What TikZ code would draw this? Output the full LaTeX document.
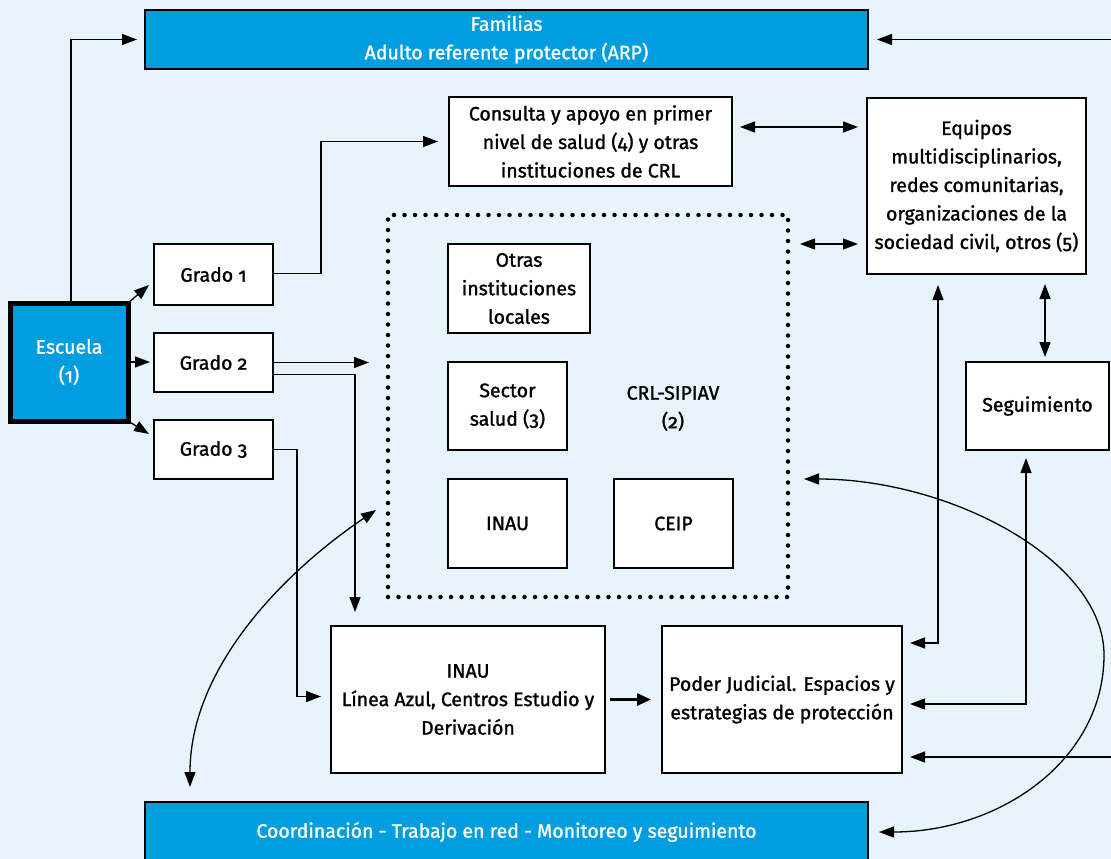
\documentclass[tikz,border=0pt]{standalone}
\usepackage{fontspec}
\setmainfont{Fira Sans}[Numbers=OldStyle, UprightFeatures={FakeBold=1.3}]
\usetikzlibrary{arrows.meta,calc}
\definecolor{bg}{RGB}{232,244,251}
\definecolor{azul}{RGB}{0,158,224}
\begin{document}
\begin{tikzpicture}[x=1pt,y=-1pt,
 every node/.style={font=\fontsize{19.5}{28.5}\selectfont, align=center, inner sep=0pt, outer sep=0pt},
 wbox/.style={draw=black, line width=2.5pt, fill=white, text=black},
 bbox/.style={draw=black, line width=2.5pt, fill=azul, text=white},
 dotbox/.style={draw=black, line width=4.5pt, dash pattern=on 0pt off 10.5pt, line cap=round},
 arr/.style={line width=1.3pt, -{Triangle[length=15pt,width=11pt]}},
 darr/.style={line width=1.3pt, {Triangle[length=15pt,width=11pt]}-{Triangle[length=15pt,width=11pt]}},
]
\fill[bg] (0,0) rectangle (1111,859);
\useasboundingbox (0,0) rectangle (1111,859);

% nodes
\node[bbox, minimum width=723pt, minimum height=59pt] (fam) at (506.5,39.5) {Familias\\Adulto referente protector (ARP)};
\node[bbox, minimum width=723pt, minimum height=60pt] (coord) at (506.5,832) {Coordinación - Trabajo en red - Monitoreo y seguimiento};
\node[bbox, line width=5pt, minimum width=118pt, minimum height=118pt] (esc) at (69,362) {Escuela\\(1)};
\node[wbox, minimum width=119pt, minimum height=61pt] (g1) at (213.5,274.5) {Grado 1};
\node[wbox, minimum width=119pt, minimum height=59pt] (g2) at (213.5,362.5) {Grado 2};
\node[wbox, minimum width=119pt, minimum height=59pt] (g3) at (213.5,449.5) {Grado 3};
\node[wbox, minimum width=283pt, minimum height=89pt] (cons) at (590.5,141.5) {Consulta y apoyo en primer\\nivel de salud (4) y otras\\instituciones de CRL};
\node[wbox, minimum width=219pt, minimum height=176pt] (eq) at (976.5,186) {Equipos\\multidisciplinarios,\\redes comunitarias,\\organizaciones de la\\sociedad civil, otros (5)};
\node[wbox, minimum width=143pt, minimum height=88pt] (seg) at (1037.5,406) {Seguimiento};
\node[dotbox, minimum width=400pt, minimum height=382pt] (dot) at (588,406) {};
\node[wbox, minimum width=142pt, minimum height=89pt] (otras) at (519,288.5) {Otras\\instituciones\\locales};
\node[wbox, minimum width=119pt, minimum height=88pt] (sector) at (507.5,406) {Sector\\salud (3)};
\node[wbox, minimum width=119pt, minimum height=89pt] (inau1) at (507.5,523.5) {INAU};
\node[wbox, minimum width=119pt, minimum height=89pt] (ceip) at (673.5,523.5) {CEIP};
\node (crl) at (673,408.5) {CRL-SIPIAV\\(2)};
\node[wbox, minimum width=274pt, minimum height=147pt] (inau2) at (468,699.5) {INAU\\Línea Azul, Centros Estudio y\\Derivación};
\node[wbox, minimum width=240pt, minimum height=147pt] (pod) at (782,699.5) {Poder Judicial. Espacios y\\estrategias de protección};

% helper coordinates
\coordinate (rA) at (1111,39.5);
\coordinate (rB) at (1111,757);
\coordinate (y127) at (0,127);
\coordinate (y244) at (0,244);
\coordinate (y643) at (0,643);
\coordinate (y704) at (0,704);
\coordinate (y510) at (0,510);
\coordinate (y479) at (0,479);
\coordinate (x938) at (938,0);
\coordinate (x1026) at (1026,0);
\coordinate (x1045) at (1045,0);
\coordinate (x190) at (190,0);
\coordinate (lc) at ($(dot.west |- y510)+(-12,0)$);

% connectors
\draw[arr, shorten >=8pt] ([xshift=2pt]esc.north) |- (fam.west);
\draw[arr, shorten >=9pt] (rA) -- (fam.east |- rA);
\draw[arr] (esc.north east) -- ([xshift=-5pt,yshift=20pt]g1.south west);
\draw[arr, shorten >=4pt] (esc.east) -- (esc.east -| g2.west);
\draw[arr] (esc.south east) -- ([xshift=-5pt,yshift=-14pt]g3.north west);
\draw[arr, shorten >=11pt] ([yshift=1pt]g1.east) -- ++(48,0) |- (cons.west);
\draw[arr, shorten >=19pt] (g2.east) -- (g2.east -| dot.west);
\draw[arr, shorten >=14pt] ([yshift=-12pt]g2.east) -| ([xshift=24pt]inau2.north west);
\draw[arr, shorten >=10pt] (g3.east) -- ++(24,0) |- ([yshift=3pt]inau2.west);
\draw[darr, shorten <=8pt, shorten >=9pt] (cons.east |- y127) -- (eq.west |- y127);
\draw[darr, shorten <=12pt, shorten >=9pt] (dot.east |- y244) -- (eq.west |- y244);
\draw[darr, shorten <=10pt, shorten >=5pt] (eq.south -| x1045) -- (seg.north -| x1045);
\draw[darr, shorten <=8pt, shorten >=11pt] (pod.east |- y643) -| (eq.south -| x938);
\draw[darr, shorten <=8pt, shorten >=8pt] (pod.east |- y704) -| (seg.south -| x1026);
\draw[arr, shorten >=8pt] (rB) -- (pod.east |- rB);
\draw[line width=3pt, -{Triangle[length=14pt,width=12pt]}, shorten <=5pt, shorten >=11pt] (inau2.east) -- (pod.west);
\draw[darr, shorten >=15pt] (lc) .. controls (280,575) and (190,670) .. (coord.north -| x190);
\draw[darr, shorten <=16pt, shorten >=11pt] (dot.east |- y479) .. controls (950,479) and (1104,560) .. (1104,655) .. controls (1104,760) and (1000,832) .. (coord.east);
\end{tikzpicture}
\end{document}
